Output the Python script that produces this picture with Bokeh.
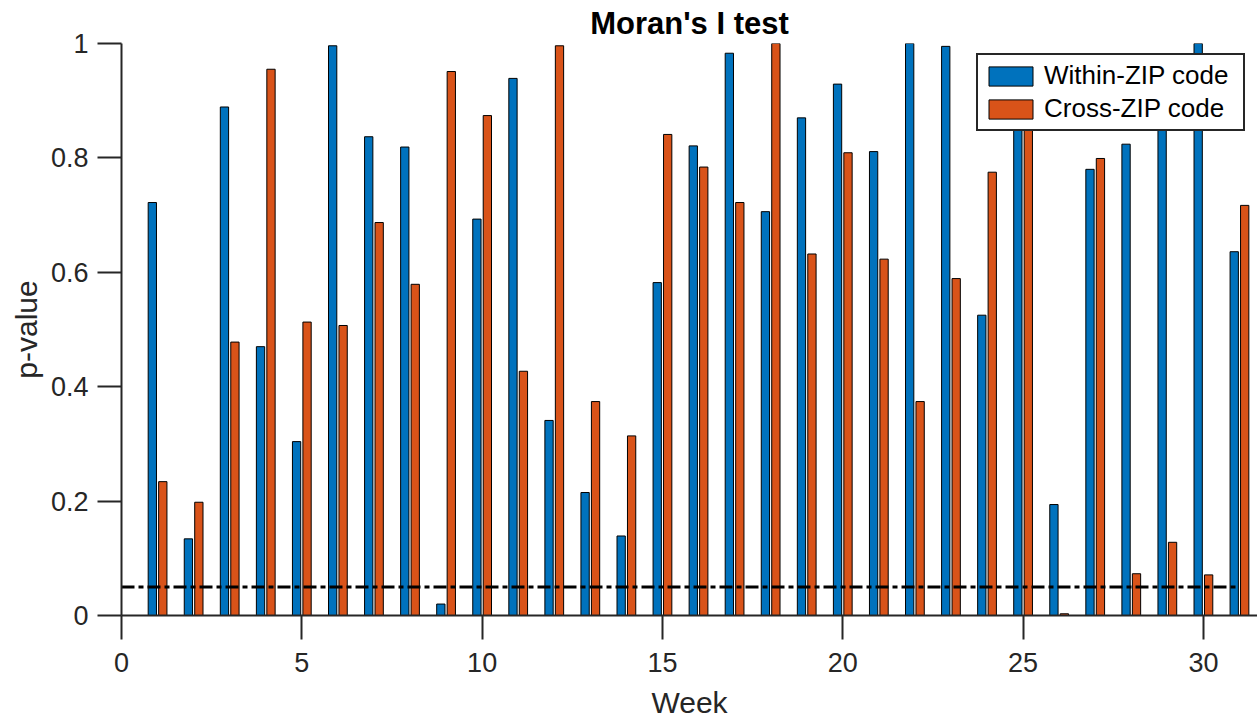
from bokeh.plotting import figure
from bokeh.models import (Range1d, FixedTicker, CustomJSTickFormatter, Legend,
                          LegendItem, ColumnDataSource)
from bokeh.transform import dodge
from bokeh.embed import file_html
from bokeh.resources import INLINE

# ---- data ----
weeks = list(range(1, 32))
within_zip = [0.722, 0.134, 0.889, 0.470, 0.304, 0.996, 0.837, 0.819, 0.020, 0.693,
              0.939, 0.341, 0.215, 0.139, 0.582, 0.821, 0.983, 0.706, 0.870, 0.929,
              0.811, 1.000, 0.995, 0.525, 0.940, 0.194, 0.780, 0.824, 0.982, 1.000,
              0.636]
cross_zip = [0.234, 0.198, 0.478, 0.955, 0.513, 0.507, 0.687, 0.579, 0.951, 0.874,
             0.427, 0.996, 0.374, 0.314, 0.841, 0.784, 0.722, 1.000, 0.632, 0.809,
             0.623, 0.374, 0.589, 0.775, 0.910, 0.003, 0.799, 0.073, 0.128, 0.071,
             0.717]
series_labels = ["Within-ZIP code", "Cross-ZIP code"]
x_ticks = [0, 5, 10, 15, 20, 25, 30]
y_ticks = [0, 0.2, 0.4, 0.6, 0.8, 1.0]
alpha_level = 0.05

FONT = "Liberation Sans"
INK = "#262626"
BLUE = "#0072BD"
ORANGE = "#D95319"

src = ColumnDataSource(dict(week=weeks, within=within_zip, cross=cross_zip))

X_END = 31.5
p = figure(width=1257, height=723, x_range=Range1d(0, X_END), y_range=Range1d(0, 1),
           output_backend="svg", toolbar_location=None,
           min_border_left=121, min_border_right=0, min_border_top=43,
           min_border_bottom=108)
p.outline_line_color = None
p.xgrid.grid_line_color = None
p.ygrid.grid_line_color = None
p.background_fill_color = "white"
p.border_fill_color = "white"

# title
p.title.text = "Moran's I test"
p.title.align = "center"
p.title.text_font = FONT
p.title.text_font_size = "31px"
p.title.text_font_style = "bold"
p.title.text_color = "black"
p.title.standoff = 6

BAR_W = 0.23
OFF = 0.145
r1 = p.vbar(x=dodge("week", -OFF, range=p.x_range), top="within", bottom=0, width=BAR_W,
            source=src, fill_color=BLUE, line_color="black", line_width=1)
r2 = p.vbar(x=dodge("week", OFF, range=p.x_range), top="cross", bottom=0, width=BAR_W,
            source=src, fill_color=ORANGE, line_color="black", line_width=1)

# significance threshold line
p.line(x=[0, max(weeks)], y=[alpha_level, alpha_level], line_color="black",
       line_width=3, line_dash="13 4 5 4")

# axes
for ax in (p.xaxis[0], p.yaxis[0]):
    ax.axis_line_color = INK
    ax.axis_line_width = 2
    ax.major_tick_line_color = INK
    ax.major_tick_line_width = 2
    ax.major_tick_out = 24
    ax.major_tick_in = 0
    ax.minor_tick_line_color = None
    ax.major_label_text_font = FONT
    ax.major_label_text_font_size = "27px"
    ax.major_label_text_color = INK
    ax.axis_label_text_font = FONT
    ax.axis_label_text_font_size = "30px"
    ax.axis_label_text_font_style = "normal"
    ax.axis_label_text_color = INK

p.xaxis[0].ticker = FixedTicker(ticks=x_ticks)
p.yaxis[0].ticker = FixedTicker(ticks=y_ticks)
p.yaxis[0].formatter = CustomJSTickFormatter(code="return String(Number(tick.toFixed(1)));")
p.xaxis[0].axis_label = "Week"
p.yaxis[0].axis_label = "p-value"
p.xaxis[0].major_label_standoff = 13
p.xaxis[0].axis_label_standoff = 11
p.yaxis[0].major_label_standoff = 9
p.yaxis[0].axis_label_standoff = 5

legend = Legend(items=[LegendItem(label=series_labels[0], renderers=[r1]),
                       LegendItem(label=series_labels[1], renderers=[r2])],
                location=(855, 484))
legend.margin = 0
legend.padding = 5
legend.spacing = 2
legend.glyph_width = 55
legend.glyph_height = 24
legend.label_standoff = 6
legend.label_width = 194
legend.label_text_font = FONT
legend.label_text_font_size = "26px"
legend.label_text_color = "black"
legend.border_line_color = INK
legend.border_line_width = 2
legend.border_line_alpha = 1.0
legend.background_fill_color = "white"
legend.background_fill_alpha = 1.0
p.add_layout(legend)

open("out.html", "w").write(file_html(p, INLINE))
